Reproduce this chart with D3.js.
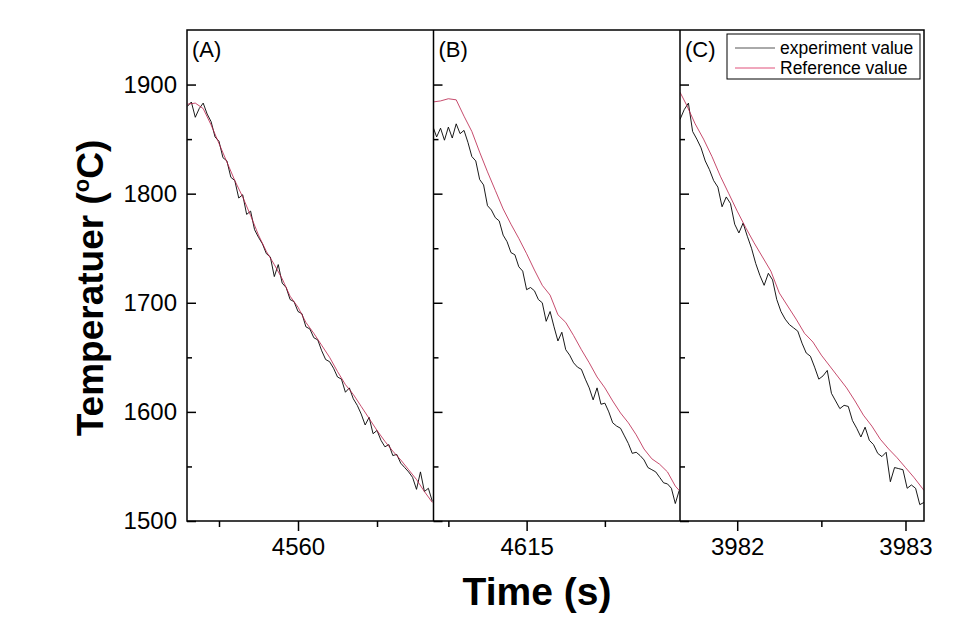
<!DOCTYPE html>
<html>
<head>
<meta charset="utf-8">
<script src="https://cdn.jsdelivr.net/npm/d3@7/dist/d3.min.js"></script>
<style>
  body { margin: 0; background: #fff; }
  text { font-family: Arial, "Liberation Sans", sans-serif; fill: #000; }
</style>
</head>
<body>
<div id="chart"></div>
<script>
// tick values
const tempTicks = [1500, 1600, 1700, 1800, 1900];
const tempMinorTicks = [1550, 1650, 1750, 1850];
const panelLabels = ['(A)', '(B)', '(C)'];
const timeDomains = [[4558.595, 4561.715], [4613.81, 4616.96], [3981.66, 3983.11]];
const timeMajorTicks = [[4560], [4615], [3982, 3983]];
const timeMinorTicks = [[4559, 4561], [4614, 4616], [3982.5]];

// panel A
const timeExpA = [4558.60, 4558.65, 4558.70, 4558.75, 4558.80, 4558.85, 4558.90, 4558.95, 4559.00, 4559.05,
  4559.10, 4559.15, 4559.20, 4559.25, 4559.30, 4559.35, 4559.40, 4559.45, 4559.50, 4559.55,
  4559.60, 4559.65, 4559.70, 4559.75, 4559.80, 4559.85, 4559.90, 4559.95, 4560.00, 4560.05,
  4560.10, 4560.15, 4560.20, 4560.25, 4560.30, 4560.35, 4560.40, 4560.45, 4560.50, 4560.55,
  4560.60, 4560.65, 4560.70, 4560.75, 4560.80, 4560.85, 4560.90, 4560.95, 4561.00, 4561.05,
  4561.10, 4561.15, 4561.20, 4561.25, 4561.30, 4561.35, 4561.40, 4561.45, 4561.50, 4561.55,
  4561.60, 4561.65, 4561.70];
const tempExpA = [1880, 1884, 1870, 1878, 1883, 1873, 1866, 1852, 1848, 1833,
  1830, 1815, 1812, 1796, 1799, 1781, 1784, 1767, 1760, 1754,
  1745, 1742, 1724, 1735, 1718, 1714, 1703, 1701, 1692, 1690,
  1678, 1676, 1668, 1666, 1656, 1648, 1646, 1640, 1632, 1630,
  1618, 1622, 1612, 1606, 1598, 1588, 1595, 1580, 1583, 1574,
  1568, 1570, 1560, 1561, 1553, 1549, 1545, 1540, 1529, 1545,
  1527, 1530, 1518];
const timeRefA = [4558.6, 4558.7, 4558.8, 4558.9, 4559.0, 4559.1, 4559.2, 4559.3, 4559.4, 4559.5,
  4559.6, 4559.7, 4559.8, 4559.9, 4560.0, 4560.1, 4560.2, 4560.3, 4560.4, 4560.5,
  4560.6, 4560.7, 4560.8, 4560.9, 4561.0, 4561.1, 4561.2, 4561.3, 4561.4, 4561.5,
  4561.6, 4561.7];
const tempRefA = [1882, 1883, 1878, 1863, 1846, 1829, 1812, 1797, 1780, 1762,
  1747, 1735, 1722, 1706, 1696, 1682, 1672, 1661, 1650, 1637,
  1625, 1616, 1605, 1594, 1583, 1573, 1564, 1556, 1547, 1538,
  1527, 1517];

// panel B
const timeExpB = [4613.80, 4613.85, 4613.90, 4613.95, 4614.00, 4614.05, 4614.10, 4614.15, 4614.20, 4614.25,
  4614.30, 4614.35, 4614.40, 4614.45, 4614.50, 4614.55, 4614.60, 4614.65, 4614.70, 4614.75,
  4614.80, 4614.85, 4614.90, 4614.95, 4615.00, 4615.05, 4615.10, 4615.15, 4615.20, 4615.25,
  4615.30, 4615.35, 4615.40, 4615.45, 4615.50, 4615.55, 4615.60, 4615.65, 4615.70, 4615.75,
  4615.80, 4615.85, 4615.90, 4615.95, 4616.00, 4616.05, 4616.10, 4616.15, 4616.20, 4616.25,
  4616.30, 4616.35, 4616.40, 4616.45, 4616.50, 4616.55, 4616.60, 4616.65, 4616.70, 4616.75,
  4616.80, 4616.85, 4616.90, 4616.95];
const tempExpB = [1862, 1852, 1860, 1849, 1861, 1851, 1864, 1855, 1858, 1847,
  1834, 1830, 1813, 1808, 1789, 1785, 1778, 1775, 1762, 1756,
  1746, 1744, 1733, 1729, 1712, 1714, 1711, 1703, 1700, 1683,
  1692, 1678, 1665, 1673, 1657, 1652, 1645, 1641, 1639, 1630,
  1622, 1611, 1622, 1607, 1608, 1600, 1590, 1587, 1585, 1578,
  1571, 1562, 1563, 1560, 1556, 1549, 1547, 1545, 1540, 1535,
  1534, 1530, 1516, 1528];
const timeRefB = [4613.8, 4613.9, 4614.0, 4614.1, 4614.2, 4614.3, 4614.4, 4614.5, 4614.6, 4614.7,
  4614.8, 4614.9, 4615.0, 4615.1, 4615.2, 4615.3, 4615.4, 4615.5, 4615.6, 4615.7,
  4615.8, 4615.9, 4616.0, 4616.1, 4616.2, 4616.3, 4616.4, 4616.5, 4616.6, 4616.7,
  4616.8, 4616.9, 4616.95];
const tempRefB = [1884, 1885, 1887, 1886, 1871, 1857, 1838, 1820, 1803, 1786,
  1772, 1759, 1745, 1730, 1716, 1707, 1689, 1682, 1670, 1657,
  1645, 1632, 1622, 1610, 1599, 1590, 1579, 1566, 1557, 1552,
  1545, 1532, 1528];

// panel C
const timeExpC = [3981.660, 3981.685, 3981.710, 3981.735, 3981.760, 3981.785, 3981.810, 3981.835, 3981.860, 3981.885,
  3981.910, 3981.935, 3981.960, 3981.985, 3982.010, 3982.035, 3982.060, 3982.085, 3982.110, 3982.135,
  3982.160, 3982.185, 3982.210, 3982.235, 3982.260, 3982.285, 3982.310, 3982.335, 3982.360, 3982.385,
  3982.410, 3982.435, 3982.460, 3982.485, 3982.510, 3982.535, 3982.560, 3982.585, 3982.610, 3982.635,
  3982.660, 3982.685, 3982.710, 3982.735, 3982.760, 3982.785, 3982.810, 3982.835, 3982.860, 3982.885,
  3982.910, 3982.935, 3982.960, 3982.985, 3983.010, 3983.035, 3983.060, 3983.085, 3983.110];
const tempExpC = [1868, 1877, 1883, 1857, 1850, 1842, 1830, 1822, 1812, 1806,
  1788, 1797, 1791, 1772, 1764, 1773, 1761, 1750, 1736, 1725,
  1716, 1727, 1721, 1703, 1692, 1685, 1680, 1677, 1674, 1663,
  1654, 1651, 1641, 1630, 1633, 1638, 1617, 1610, 1603, 1606,
  1605, 1592, 1585, 1577, 1586, 1574, 1570, 1562, 1559, 1563,
  1536, 1549, 1548, 1547, 1530, 1533, 1530, 1515, 1517];
const timeRefC = [3981.66, 3981.70, 3981.75, 3981.80, 3981.85, 3981.90, 3981.95, 3982.00, 3982.05, 3982.10,
  3982.15, 3982.20, 3982.25, 3982.30, 3982.35, 3982.40, 3982.45, 3982.50, 3982.55, 3982.60,
  3982.65, 3982.70, 3982.75, 3982.80, 3982.85, 3982.90, 3982.95, 3983.00, 3983.05, 3983.10,
  3983.11];
const tempRefC = [1893, 1881, 1864, 1850, 1834, 1816, 1800, 1784, 1769, 1755,
  1742, 1729, 1709, 1697, 1685, 1672, 1664, 1652, 1642, 1632,
  1622, 1610, 1597, 1587, 1575, 1566, 1558, 1549, 1540, 1530,
  1528];

const panels = [
  { exp: [timeExpA, tempExpA], ref: [timeRefA, tempRefA] },
  { exp: [timeExpB, tempExpB], ref: [timeRefB, tempRefB] },
  { exp: [timeExpC, tempExpC], ref: [timeRefC, tempRefC] }
];

const width = 977, height = 644;
const plotTop = 30, plotBottom = 521;
const edges = [187, 433.5, 680, 924];
const fontStack = 'Arial, "Liberation Sans", sans-serif';

const svg = d3.select('#chart').append('svg')
  .attr('width', width).attr('height', height);

const y = d3.scaleLinear().domain([1500, 1950]).range([plotBottom, plotTop]);

function zip(pair) {
  return pair[0].map((t, i) => [t, pair[1][i]]);
}

panels.forEach((p, i) => {
  const x = d3.scaleLinear().domain(timeDomains[i]).range([edges[i], edges[i + 1]]);
  const clipId = 'clip' + i;

  svg.append('clipPath').attr('id', clipId)
    .append('rect')
    .attr('x', edges[i]).attr('y', plotTop)
    .attr('width', edges[i + 1] - edges[i]).attr('height', plotBottom - plotTop);

  const line = d3.line().x(d => x(d[0])).y(d => y(d[1]));
  const g = svg.append('g').attr('clip-path', 'url(#' + clipId + ')');

  g.append('path').datum(zip(p.exp))
    .attr('d', line).attr('fill', 'none')
    .attr('stroke', '#000').attr('stroke-width', 0.9);

  g.append('path').datum(zip(p.ref))
    .attr('d', line).attr('fill', 'none')
    .attr('stroke', '#b81e48').attr('stroke-width', 0.8);

  // inward y ticks on the left edge of each panel
  const yMajor = svg.append('g').attr('transform', 'translate(' + edges[i] + ',0)')
    .call(d3.axisRight(y).tickValues(tempTicks).tickSize(9).tickFormat(''));
  const yMinor = svg.append('g').attr('transform', 'translate(' + edges[i] + ',0)')
    .call(d3.axisRight(y).tickValues(tempMinorTicks).tickSize(5).tickFormat(''));

  // outward x ticks
  const xMajor = svg.append('g').attr('transform', 'translate(0,' + plotBottom + ')')
    .call(d3.axisBottom(x).tickValues(timeMajorTicks[i]).tickSize(10).tickPadding(7)
      .tickFormat(d3.format('d')));
  const xMinor = svg.append('g').attr('transform', 'translate(0,' + plotBottom + ')')
    .call(d3.axisBottom(x).tickValues(timeMinorTicks[i]).tickSize(6).tickFormat(''));

  [yMajor, yMinor, xMajor, xMinor].forEach(a => {
    a.select('.domain').remove();
    a.selectAll('line').attr('stroke', '#000').attr('stroke-width', 1.5);
  });
  xMajor.selectAll('text').attr('font-size', 24).attr('font-family', fontStack);

  svg.append('text')
    .attr('x', edges[i] + 5).attr('y', 57)
    .attr('font-size', 22)
    .text(panelLabels[i]);
});

// y tick labels
const yLabels = svg.append('g').attr('transform', 'translate(' + edges[0] + ',0)')
  .call(d3.axisLeft(y).tickValues(tempTicks).tickSize(0).tickPadding(10)
    .tickFormat(d3.format('d')));
yLabels.select('.domain').remove();
yLabels.selectAll('text').attr('font-size', 24).attr('font-family', fontStack);

// frame and panel dividers
svg.append('rect')
  .attr('x', edges[0]).attr('y', plotTop)
  .attr('width', edges[3] - edges[0]).attr('height', plotBottom - plotTop)
  .attr('fill', 'none').attr('stroke', '#000').attr('stroke-width', 1.5);
[edges[1], edges[2]].forEach(e => {
  svg.append('line')
    .attr('x1', e).attr('x2', e).attr('y1', plotTop).attr('y2', plotBottom)
    .attr('stroke', '#000').attr('stroke-width', 1.5);
});

// axis titles
svg.append('text')
  .attr('x', 537).attr('y', 605)
  .attr('text-anchor', 'middle')
  .attr('font-size', 39).attr('font-weight', 'bold')
  .text('Time (s)');

const yTitle = svg.append('text')
  .attr('transform', 'translate(103,288) rotate(-90)')
  .attr('text-anchor', 'middle')
  .attr('font-size', 37).attr('font-weight', 'bold');
yTitle.append('tspan').text('Temperatuer (');
yTitle.append('tspan').attr('font-size', 22).attr('dy', -14).text('o');
yTitle.append('tspan').attr('dy', 14).text('C)');

// legend
const legend = svg.append('g');
legend.append('rect')
  .attr('x', 727).attr('y', 34).attr('width', 193).attr('height', 45)
  .attr('fill', '#fff').attr('stroke', '#000').attr('stroke-width', 1);
const legendItems = [
  { label: 'experiment value', color: '#555' },
  { label: 'Reference value', color: '#e0507a' }
];
legendItems.forEach((d, i) => {
  legend.append('line')
    .attr('x1', 735).attr('x2', 775)
    .attr('y1', 48 + i * 20).attr('y2', 48 + i * 20)
    .attr('stroke', d.color).attr('stroke-width', 1);
  legend.append('text')
    .attr('x', 780).attr('y', 54 + i * 20)
    .attr('font-size', 17.5)
    .text(d.label);
});
</script>
</body>
</html>
